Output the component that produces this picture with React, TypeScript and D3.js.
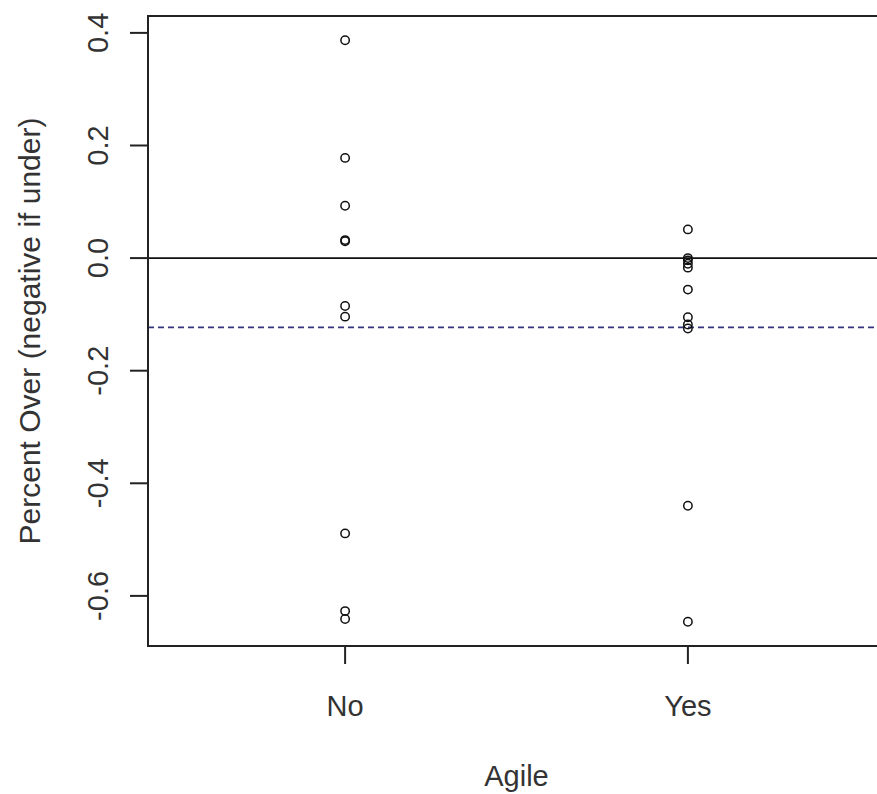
import React, { useEffect } from 'react';
import * as d3 from 'd3';

// category order on the x axis
const categories = ['No', 'Yes'];

// percent over per project
const noValues = [0.387, 0.178, 0.093, 0.032, 0.03, -0.085, -0.104, -0.489, -0.627, -0.641];
const yesValues = [0.051, 0.0, -0.004, -0.01, -0.017, -0.056, -0.105, -0.118, -0.125, -0.44, -0.646];

const yTicks = [-0.6, -0.4, -0.2, 0.0, 0.2, 0.4];
const zeroLine = 0;
const meanLine = -0.123;

const W = 877;
const H = 794;
const font = '"Liberation Sans", Arial, sans-serif';

const App: React.FC = () => {
  useEffect(() => {
    document.body.style.margin = '0';
  }, []);

  const margin = { top: 16, right: -8, bottom: 148, left: 148 };
  const x = d3.scaleLinear().domain([0.425, 2.575]).range([margin.left, W - margin.right]);
  const y = d3.scaleLinear().domain([-0.689, 0.43]).range([H - margin.bottom, margin.top]);
  // R prints a plain hyphen, not the unicode minus d3 uses
  const fmt = (v: number) => d3.format('.1f')(v).replace('\u2212', '-');

  const series = [noValues, yesValues];
  const [x0, x1] = x.range();
  const [yb, yt] = y.range();

  return (
    <svg width={W} height={H} style={{ display: 'block', background: '#fff' }}>
      {/* reference lines */}
      <line x1={x0} x2={x1} y1={y(zeroLine)} y2={y(zeroLine)} stroke="#111" strokeWidth={1.6} />
      <line x1={x0} x2={x1} y1={y(meanLine)} y2={y(meanLine)} stroke="#34347f" strokeWidth={1.6} strokeDasharray="6,4" />

      {/* points */}
      {series.map((vals, i) =>
        vals.map((v, j) => (
          <circle key={`${i}-${j}`} cx={x(i + 1)} cy={y(v)} r={4.2} fill="none" stroke="#111" strokeWidth={1.5} />
        ))
      )}

      {/* box */}
      <rect x={x0} y={yt} width={x1 - x0} height={yb - yt} fill="none" stroke="#222" strokeWidth={2} />

      {/* y axis */}
      {yTicks.map(t => (
        <g key={t}>
          <line x1={x0 - 18} x2={x0} y1={y(t)} y2={y(t)} stroke="#222" strokeWidth={2} />
          <text
            transform={`translate(108,${y(t)}) rotate(-90)`}
            textAnchor="middle"
            fontFamily={font}
            fontSize={29}
            fill="#333"
          >
            {fmt(t)}
          </text>
        </g>
      ))}
      <text
        transform={`translate(40,${(yt + yb) / 2}) rotate(-90)`}
        textAnchor="middle"
        fontFamily={font}
        fontSize={30}
        fill="#333"
      >
        Percent Over (negative if under)
      </text>

      {/* x axis */}
      {categories.map((c, i) => (
        <g key={c}>
          <line x1={x(i + 1)} x2={x(i + 1)} y1={yb} y2={yb + 18} stroke="#222" strokeWidth={2} />
          <text x={x(i + 1)} y={716} textAnchor="middle" fontFamily={font} fontSize={29} fill="#333">
            {c}
          </text>
        </g>
      ))}
      <text x={(x0 + x1) / 2} y={786} textAnchor="middle" fontFamily={font} fontSize={29} fill="#333">
        Agile
      </text>
    </svg>
  );
};

export default App;
